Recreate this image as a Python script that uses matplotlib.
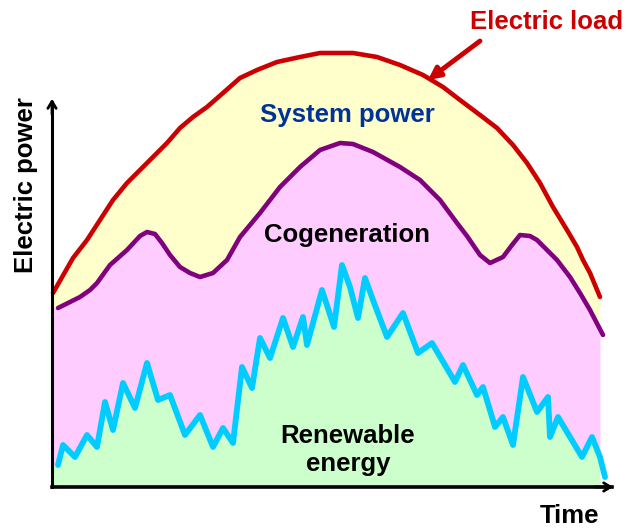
#!/usr/bin/env python3
"""
Schematic of daily electric load split into system power, cogeneration
and renewable energy.
"""

import matplotlib
matplotlib.use("Agg")
import matplotlib.pyplot as plt
import numpy as np

plt.rcParams["font.family"] = ["Liberation Sans", "DejaVu Sans"]
plt.rcParams["font.weight"] = "bold"

# electric load (red line): time, power
load_t = [1, 21, 35, 48, 61, 75, 88, 101, 115, 128, 141, 155, 171, 188, 205, 225, 248, 268,
          301, 325, 348, 371, 391, 408, 428, 445, 461, 475, 488, 501, 515, 525, 531, 538, 548]
load_p = [194, 229, 247, 267, 287, 304, 317, 330, 344, 359, 370, 380, 394, 409, 417, 425, 430, 434,
          434, 430, 422, 412, 400, 387, 372, 359, 342, 324, 304, 280, 257, 240, 227, 214, 190]

# cogeneration (purple line)
cogen_t = [6, 18, 28, 38, 45, 58, 75, 88, 95, 103, 110, 118, 128, 138, 148, 161, 175, 188,
           208, 228, 248, 268, 288, 301, 321, 348, 368, 388, 405, 415, 428, 438, 451, 460,
           468, 478, 485, 505, 518, 528, 538, 551]
cogen_p = [179, 185, 190, 197, 204, 222, 237, 251, 255, 253, 244, 232, 220, 214, 210, 214, 227, 250,
           274, 300, 320, 337, 344, 343, 335, 320, 307, 287, 264, 251, 232, 224, 230, 242,
           252, 251, 247, 227, 210, 194, 177, 152]

# renewable energy (cyan line)
renew_t = [6, 11, 23, 35, 45, 53, 61, 71, 83, 95, 106, 118, 133, 148, 161, 171, 181, 190,
           200, 208, 218, 231, 241, 251, 255, 270, 282, 290, 298, 306, 313, 321, 335, 351,
           366, 380, 403, 411, 425, 431, 443, 451, 461, 471, 485, 496, 498, 506, 530, 540,
           548, 553]
renew_p = [22, 42, 30, 52, 40, 85, 57, 104, 79, 124, 87, 92, 52, 72, 40, 59, 44, 120,
           99, 149, 129, 169, 140, 170, 142, 197, 160, 222, 200, 169, 209, 187, 150, 174,
           134, 144, 105, 122, 92, 100, 60, 70, 42, 110, 75, 90, 50, 70, 30, 50,
           30, 10]

fig = plt.figure(figsize=(6.3, 5.28), dpi=100)
ax = fig.add_axes([0, 0, 1, 1])
ax.set_xlim(-52, 578)
ax.set_ylim(-41, 487)
ax.axis("off")

x_fill = np.arange(0, 549)
load_i = np.interp(x_fill, load_t, load_p)
cogen_i = np.interp(x_fill, cogen_t, cogen_p)
renew_i = np.interp(x_fill, renew_t, renew_p)

ax.fill_between(x_fill, cogen_i, load_i, color="#FFFFCC", lw=0)
ax.fill_between(x_fill, renew_i, cogen_i, color="#FFCCFF", lw=0)
ax.fill_between(x_fill, 0, renew_i, color="#CCFFCC", lw=0)

line_kw = dict(solid_joinstyle="round", solid_capstyle="round")
ax.plot(load_t, load_p, color="#CC0000", lw=3.3, **line_kw)
ax.plot(cogen_t, cogen_p, color="#800080", lw=3.3, **line_kw)
ax.plot(renew_t, renew_p, color="#00CCFF", lw=4.2, **line_kw)

# axes with arrows
ax.plot([0, 0], [0, 385], color="black", lw=2.2)
ax.plot([0, 560], [0, 0], color="black", lw=2.6)
ax.annotate("", xy=(0, 391), xytext=(0, 370),
            arrowprops=dict(arrowstyle="->,head_length=0.5,head_width=0.3", color="black", lw=2))
ax.annotate("", xy=(564, 0), xytext=(540, 0),
            arrowprops=dict(arrowstyle="->,head_length=0.5,head_width=0.3", color="black", lw=2))

ax.annotate("", xy=(376, 407), xytext=(428, 446),
            arrowprops=dict(arrowstyle="-|>,head_length=0.7,head_width=0.35",
                            color="#CC0000", lw=3.5, shrinkA=0, shrinkB=0))

fs = 18.5
ax.text(495, 465, "Electric load", color="#CC0000", fontsize=fs, ha="center", va="center")
ax.text(295, 372, "System power", color="#003399", fontsize=fs, ha="center", va="center")
ax.text(295, 252, "Cogeneration", color="black", fontsize=fs, ha="center", va="center")
ax.text(296, 37, "Renewable\nenergy", color="black", fontsize=fs, ha="center", va="center",
        linespacing=1.22)
ax.text(518, -29, "Time", color="black", fontsize=fs, ha="center", va="center")
ax.text(-26, 302, "Electric power", color="black", fontsize=fs, ha="center", va="center",
        rotation=90)

fig.savefig("out.png", dpi=100)
